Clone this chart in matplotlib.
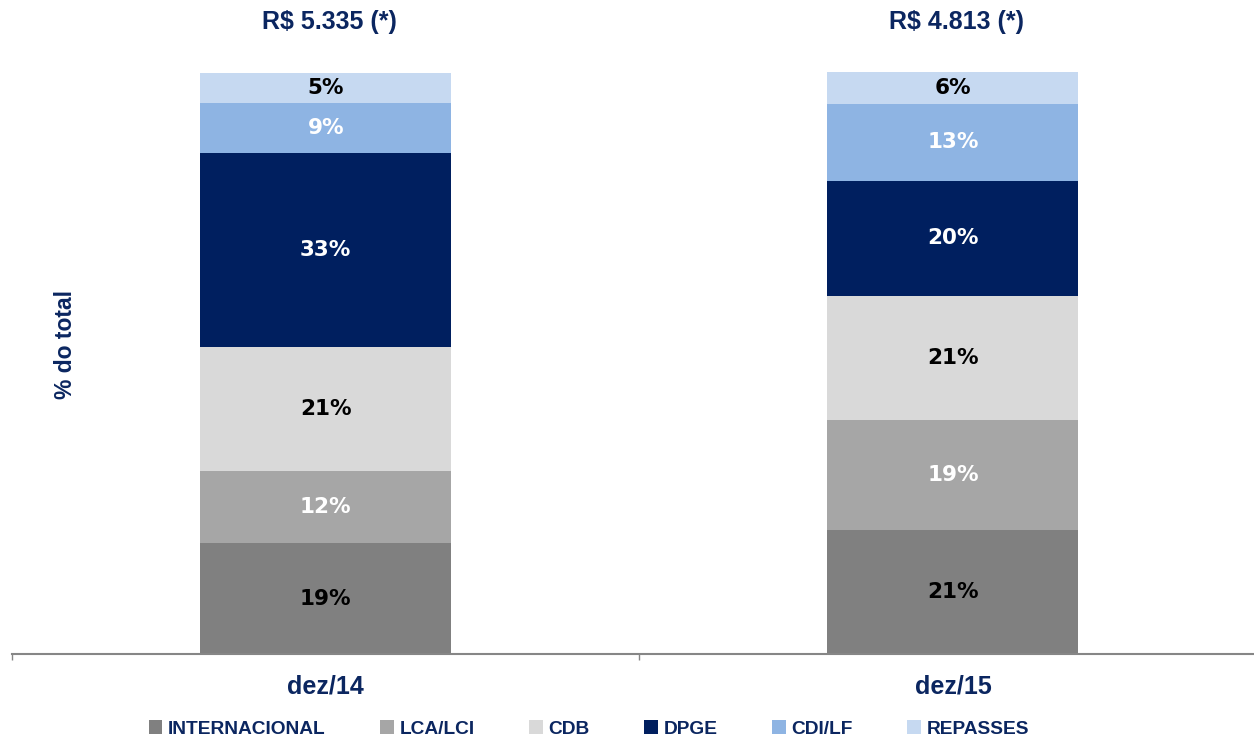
import matplotlib
matplotlib.use('Agg')
import matplotlib.pyplot as plt
from matplotlib.patches import Patch

periods = ['dez/14', 'dez/15']
totals = ['R$ 5.335 (*)', 'R$ 4.813 (*)']
series = ['INTERNACIONAL', 'LCA/LCI', 'CDB', 'DPGE', 'CDI/LF', 'REPASSES']

# share of total (%), bottom to top
internacional = [19.0, 21.3]
lca_lci = [12.4, 18.9]
cdb = [21.4, 21.3]
dpge = [33.2, 19.8]
cdi_lf = [8.6, 13.2]
repasses = [5.3, 5.6]

colors = ['#808080', '#A6A6A6', '#D9D9D9', '#001F5F', '#8EB4E3', '#C6D9F1']
label_colors = ['black', 'white', 'black', 'white', 'white', 'black']
navy = '#0B2660'

fig = plt.figure(figsize=(12.54, 7.42), dpi=100)
ax = fig.add_axes([12 / 1254, 88 / 742, 1242 / 1254, 582 / 742])

x = [0, 1]
bottom = [0.0, 0.0]
for vals, col, lc in zip([internacional, lca_lci, cdb, dpge, cdi_lf, repasses],
                         colors, label_colors):
    ax.bar(x, vals, width=0.4, bottom=bottom, color=col, edgecolor='none')
    for xi, v, b in zip(x, vals, bottom):
        ax.text(xi, b + v / 2, f'{v:.0f}%', ha='center', va='center',
                color=lc, fontsize=15.5, fontweight='bold', family='DejaVu Sans')
    bottom = [b + v for b, v in zip(bottom, vals)]

for xi, t in zip(x, totals):
    ax.text(xi + 0.006, 108.6, t, ha='center', va='center', color=navy, fontsize=18,
            fontweight='bold', family='Liberation Sans', clip_on=False)

for s in ['top', 'right', 'left']:
    ax.spines[s].set_visible(False)
ax.spines['bottom'].set_color('#868686')
ax.spines['bottom'].set_linewidth(1.5)
ax.set_yticks([])
ax.set_xticks(x)
ax.set_xticklabels(periods, color=navy, fontsize=18, fontweight='bold',
                   family=['Liberation Sans Narrow', 'Liberation Sans'])
ax.tick_params(axis='x', which='major', length=0, pad=15)
ax.set_xticks([-0.5, 0.5], minor=True)
ax.tick_params(axis='x', which='minor', length=4.5, width=1, color='#868686')
ax.set_xlim(-0.5, 1.48)
ax.set_ylim(0, 100)

fig.text(65 / 1254, 1 - 345 / 742, '% do total', rotation=90, ha='center', va='center',
         color=navy, fontsize=16.5, fontweight='bold', family='Liberation Sans')

handles = [Patch(facecolor=c, edgecolor='none') for c in colors]
fig.legend(handles, series, loc='center', bbox_to_anchor=(589 / 1254, 1 - 729 / 742),
           ncol=6, frameon=False, handlelength=0.7, handleheight=0.7,
           handletextpad=0.3, columnspacing=2.85,
           prop={'family': 'Liberation Sans', 'weight': 'bold', 'size': 13.8},
           labelcolor=navy)

fig.savefig('out.png', dpi=100)
